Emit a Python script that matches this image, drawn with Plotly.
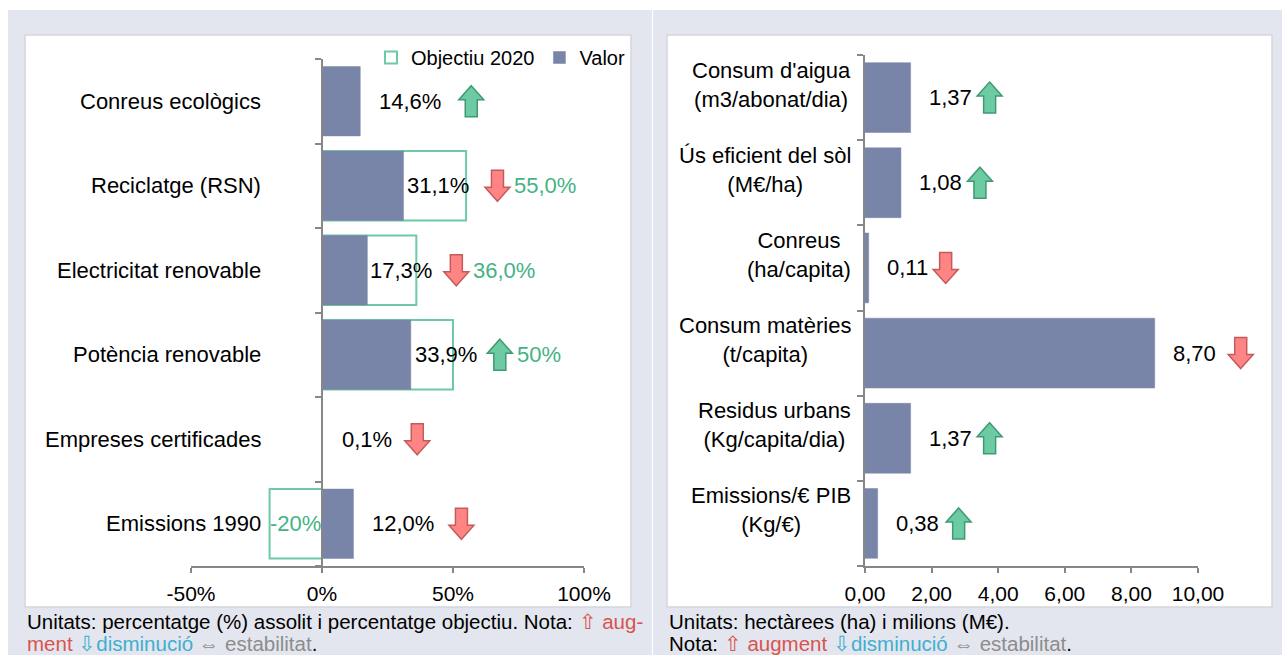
import plotly.graph_objects as go

# ---------------- data ----------------
left_categories = ["Conreus ecològics", "Reciclatge (RSN)", "Electricitat renovable",
                   "Potència renovable", "Empreses certificades", "Emissions 1990"]
left_values = [14.6, 31.1, 17.3, 33.9, 0.1, 12.0]
left_goals = [None, 55.0, 36.0, 50.0, None, -20.0]
left_goal_labels = [None, "55,0%", "36,0%", "50%", None, "-20%"]
left_trend = ["up", "down", "down", "up", "down", "down"]
left_ticks = [-50, 0, 50, 100]

right_categories = ["Consum d'aigua<br>(m3/abonat/dia)", "Ús eficient del sòl<br>(M€/ha)",
                    "Conreus<br>(ha/capita)", "Consum matèries<br>(t/capita)",
                    "Residus urbans<br>(Kg/capita/dia)", "Emissions/€ PIB<br>(Kg/€)"]
right_values = [1.37, 1.08, 0.11, 8.70, 1.37, 0.38]
right_trend = ["up", "up", "down", "down", "up", "up"]
right_ticks = [0, 2, 4, 6, 8, 10]

# ---------------- layout helpers (pixel placement, not data) ----------------
W, H = 1282, 655
FONT = "Liberation Sans, Arial, sans-serif"
BAR_COLOR = "#7885A8"
GOAL_COLOR = "#6CCBA6"
GOAL_TEXT = "#45B285"
AXIS_COLOR = "#878787"
UP_FILL, UP_LINE = "#6CCBA3", "#3F9A74"
DN_FILL, DN_LINE = "#FF8585", "#C55A5A"

left_label_shift = [17, 2, 1, 2, 18, 17]
left_arrow_shift = [111, 94, 89, 89, 95, 108]
right_label_shift = 16
right_arrow_shift = [79, 79, 77, 86, 79, 81]


def px_x(p):
    return p / W


def px_y(p):
    return 1 - p / H


L_XDOM = [px_x(191), px_x(584)]
L_XRNG = [-50, 100]
L_YDOM = [px_y(566), px_y(59)]
R_XDOM = [px_x(865), px_x(1198)]
R_XRNG = [0, 10]
R_YDOM = [px_y(566), px_y(55)]

n = len(left_categories)
idx = list(range(n))
bounds = [i - 0.5 for i in range(n + 1)]


def fmt(v, dec=2):
    return f"{v:.{dec}f}".replace(".", ",")


def data_to_paper_x(v, dom, rng):
    return dom[0] + (v - rng[0]) / (rng[1] - rng[0]) * (dom[1] - dom[0])


def cat_to_paper_y(i, dom):
    # reversed category axis: index 0 at the top
    return dom[1] - (i + 0.5) / n * (dom[1] - dom[0])


def arrow_path(direction, dx):
    # block arrow in pixels, centred at dx
    h, hw, sw, hh = 15.5, 12.5, 6, 14
    if direction == "up":
        pts = [(0, h), (hw, h - hh), (sw, h - hh), (sw, -h), (-sw, -h), (-sw, h - hh), (-hw, h - hh)]
    else:
        pts = [(0, -h), (hw, -h + hh), (sw, -h + hh), (sw, h), (-sw, h), (-sw, -h + hh), (-hw, -h + hh)]
    return "M " + " L ".join(f"{x + dx},{y}" for x, y in pts) + " Z"


def arrow_shape(direction, xa, ya, dx):
    up = direction == "up"
    return dict(type="path", xref="paper", yref="paper", xsizemode="pixel", ysizemode="pixel",
                xanchor=xa, yanchor=ya, path=arrow_path(direction, dx),
                fillcolor=UP_FILL if up else DN_FILL,
                line=dict(color=UP_LINE if up else DN_LINE, width=1.5))


fig = go.Figure()

# left chart bars
fig.add_trace(go.Bar(name="Objectiu 2020", orientation="h", x=left_goals, y=idx, width=0.82,
                     marker=dict(color="rgba(255,255,255,0)", line=dict(color=GOAL_COLOR, width=2)),
                     xaxis="x", yaxis="y", hoverinfo="skip"))
fig.add_trace(go.Bar(name="Valor", orientation="h", x=left_values, y=idx, width=0.82,
                     marker=dict(color=BAR_COLOR, line=dict(color=BAR_COLOR, width=0.5)),
                     xaxis="x", yaxis="y"))
# right chart bars
fig.add_trace(go.Bar(name="Valor", orientation="h", x=right_values, y=idx, width=0.82,
                     marker=dict(color=BAR_COLOR, line=dict(color=BAR_COLOR, width=0.5)),
                     xaxis="x2", yaxis="y2", showlegend=False))

annotations = []
shapes = []

# backgrounds
shapes.append(dict(type="rect", xref="paper", yref="paper", x0=px_x(8), x1=1, y0=0, y1=px_y(10),
                   fillcolor="#E3E6EE", line=dict(width=0), layer="below"))
shapes.append(dict(type="line", xref="paper", yref="paper", x0=px_x(652.5), x1=px_x(652.5), y0=0, y1=px_y(10),
                   line=dict(color="white", width=1.2), layer="below"))
for x0, x1 in [(25, 631), (667, 1272)]:
    shapes.append(dict(type="rect", xref="paper", yref="paper", x0=px_x(x0), x1=px_x(x1),
                       y0=px_y(607), y1=px_y(35), fillcolor="white",
                       line=dict(color="#D3D6DC", width=1.5), layer="below"))

tfont = dict(family=FONT, size=22, color="black")

# left labels
for i in idx:
    annotations.append(dict(xref="x", yref="y", x=0, y=i, xanchor="right", xshift=-59,
                            text=left_categories[i], showarrow=False, font=tfont))
    annotations.append(dict(xref="x", yref="y", x=left_values[i], y=i, xanchor="left",
                            xshift=left_label_shift[i], text=fmt(left_values[i], 1) + "%",
                            showarrow=False, font=tfont))
    shapes.append(arrow_shape(left_trend[i], data_to_paper_x(left_values[i], L_XDOM, L_XRNG),
                              cat_to_paper_y(i, L_YDOM), left_arrow_shift[i]))
    g = left_goals[i]
    if g is not None:
        if g < 0:
            annotations.append(dict(xref="x", yref="y", x=g / 2, y=i, xanchor="center",
                                    text=left_goal_labels[i], showarrow=False,
                                    font=dict(family=FONT, size=22, color=GOAL_TEXT)))
        else:
            annotations.append(dict(xref="x", yref="y", x=left_values[i], y=i, xanchor="left",
                                    xshift=left_arrow_shift[i] + 15, text=left_goal_labels[i],
                                    showarrow=False,
                                    font=dict(family=FONT, size=22, color=GOAL_TEXT)))

# right labels
for i in idx:
    annotations.append(dict(xref="x2", yref="y2", x=0, y=i, xanchor="right", xshift=-12,
                            yshift=13, align="center", text=right_categories[i],
                            showarrow=False, font=tfont))
    annotations.append(dict(xref="x2", yref="y2", x=right_values[i], y=i, xanchor="left",
                            xshift=right_label_shift, text=fmt(right_values[i], 2),
                            showarrow=False, font=tfont))
    shapes.append(arrow_shape(right_trend[i], data_to_paper_x(right_values[i], R_XDOM, R_XRNG),
                              cat_to_paper_y(i, R_YDOM), right_arrow_shift[i]))

# footers
RED, BLUE, GREY = "#D9534F", "#3FAED0", "#8C8C8C"
ffont = dict(family=FONT, size=20.5, color="black")
footers = [
    (25, 621, f"Unitats: percentatge (%) assolit i percentatge objectiu. Nota: "
              f"<span style='color:{RED}'>⇧ aug-</span>"),
    (25, 643, f"<span style='color:{RED}'>ment</span> <span style='color:{BLUE}'>⇩disminució</span> "
              f"<span style='color:{GREY}'>⇔ estabilitat</span>."),
    (667, 621, "Unitats: hectàrees (ha) i milions (M€)."),
    (667, 643, f"Nota: <span style='color:{RED}'>⇧ augment</span> "
               f"<span style='color:{BLUE}'>⇩disminució</span> "
               f"<span style='color:{GREY}'>⇔ estabilitat</span>."),
]
for x, y, t in footers:
    annotations.append(dict(xref="paper", yref="paper", x=px_x(x), y=px_y(y), xanchor="left",
                            yanchor="middle", text=t, showarrow=False, font=ffont))

yaxis_pos = data_to_paper_x(0, L_XDOM, L_XRNG)

axis_common = dict(showline=True, linecolor=AXIS_COLOR, linewidth=1.5, showgrid=False,
                   zeroline=False, ticks="outside", tickcolor=AXIS_COLOR, tickwidth=1.5,
                   fixedrange=True, automargin=False)

fig.update_layout(
    width=W, height=H, autosize=False,
    margin=dict(l=0, r=0, t=0, b=0, pad=0, autoexpand=False),
    paper_bgcolor="white", plot_bgcolor="rgba(0,0,0,0)",
    barmode="overlay",
    font=dict(family=FONT, size=21, color="black"),
    xaxis=dict(domain=L_XDOM, range=L_XRNG, anchor="y", tickvals=left_ticks,
               ticktext=[f"{v}%" for v in left_ticks], ticklen=5, ticklabelstandoff=3,
               tickfont=dict(family=FONT, size=21, color="black"), **axis_common),
    yaxis=dict(domain=L_YDOM, range=[n - 0.5, -0.5], anchor="free", position=yaxis_pos,
               tickvals=bounds, showticklabels=False, ticklen=6, **axis_common),
    xaxis2=dict(domain=R_XDOM, range=R_XRNG, anchor="y2", tickvals=right_ticks,
                ticktext=[fmt(v, 2) for v in right_ticks], ticklen=5, ticklabelstandoff=3,
                tickfont=dict(family=FONT, size=21, color="black"), **axis_common),
    yaxis2=dict(domain=R_YDOM, range=[n - 0.5, -0.5], anchor="x2",
                tickvals=bounds, showticklabels=False, ticklen=6, **axis_common),
    legend=dict(orientation="h", x=px_x(630), xanchor="right", y=px_y(38), yanchor="top",
                bgcolor="rgba(0,0,0,0)", font=dict(family=FONT, size=20, color="black"),
                itemwidth=30, traceorder="normal"),
    annotations=annotations,
    shapes=shapes,
    showlegend=True,
)

fig.write_html(
    "out.html",
    config={"responsive": False, "displayModeBar": False},
    post_script="document.body.style.margin='0';document.body.style.overflow='hidden';",
)
